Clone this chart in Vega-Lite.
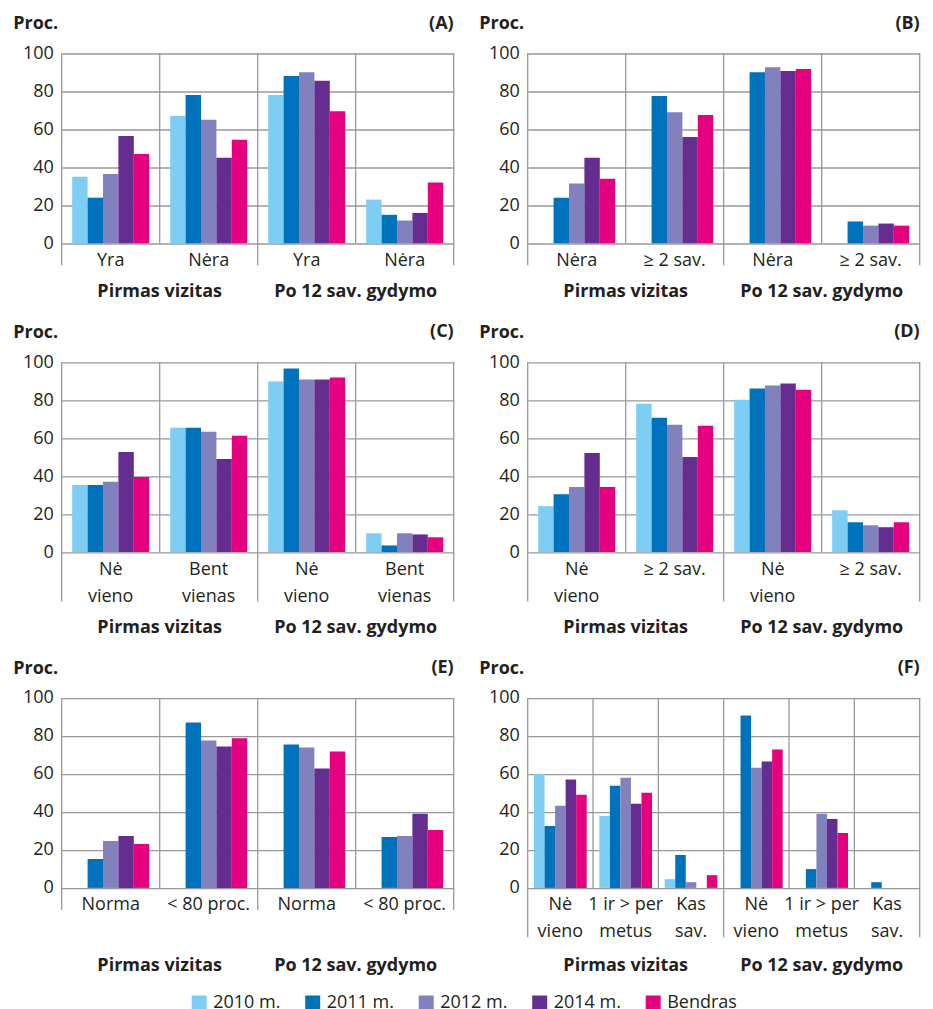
{
"$schema": "https://vega.github.io/schema/vega-lite/v6.json",
"padding": {"left": 12.7, "top": 11.5, "right": 0, "bottom": 0},
"config": {"font": "Open Sans", "view": {"stroke": null}},
"datasets": {
"bars": [
{"p":"A","cat":"c1","s":"2010 m.","v":35},{"p":"A","cat":"c1","s":"2011 m.","v":24},{"p":"A","cat":"c1","s":"2012 m.","v":36.5},{"p":"A","cat":"c1","s":"2014 m.","v":56.5},{"p":"A","cat":"c1","s":"Bendras","v":47},
{"p":"A","cat":"c2","s":"2010 m.","v":67},{"p":"A","cat":"c2","s":"2011 m.","v":78},{"p":"A","cat":"c2","s":"2012 m.","v":65},{"p":"A","cat":"c2","s":"2014 m.","v":45},{"p":"A","cat":"c2","s":"Bendras","v":54.5},
{"p":"A","cat":"c3","s":"2010 m.","v":78},{"p":"A","cat":"c3","s":"2011 m.","v":88},{"p":"A","cat":"c3","s":"2012 m.","v":90},{"p":"A","cat":"c3","s":"2014 m.","v":85.5},{"p":"A","cat":"c3","s":"Bendras","v":69.5},
{"p":"A","cat":"c4","s":"2010 m.","v":23},{"p":"A","cat":"c4","s":"2011 m.","v":15},{"p":"A","cat":"c4","s":"2012 m.","v":12},{"p":"A","cat":"c4","s":"2014 m.","v":16},{"p":"A","cat":"c4","s":"Bendras","v":32},
{"p":"B","cat":"c1","s":"2011 m.","v":24},{"p":"B","cat":"c1","s":"2012 m.","v":31.5},{"p":"B","cat":"c1","s":"2014 m.","v":45},{"p":"B","cat":"c1","s":"Bendras","v":34},
{"p":"B","cat":"c2","s":"2011 m.","v":77.5},{"p":"B","cat":"c2","s":"2012 m.","v":69},{"p":"B","cat":"c2","s":"2014 m.","v":56},{"p":"B","cat":"c2","s":"Bendras","v":67.5},
{"p":"B","cat":"c3","s":"2011 m.","v":90},{"p":"B","cat":"c3","s":"2012 m.","v":92.7},{"p":"B","cat":"c3","s":"2014 m.","v":90.7},{"p":"B","cat":"c3","s":"Bendras","v":91.7},
{"p":"B","cat":"c4","s":"2011 m.","v":11.5},{"p":"B","cat":"c4","s":"2012 m.","v":9.3},{"p":"B","cat":"c4","s":"2014 m.","v":10.4},{"p":"B","cat":"c4","s":"Bendras","v":9.3},
{"p":"C","cat":"c1","s":"2010 m.","v":35.3},{"p":"C","cat":"c1","s":"2011 m.","v":35.3},{"p":"C","cat":"c1","s":"2012 m.","v":37},{"p":"C","cat":"c1","s":"2014 m.","v":52.7},{"p":"C","cat":"c1","s":"Bendras","v":39.5},
{"p":"C","cat":"c2","s":"2010 m.","v":65.4},{"p":"C","cat":"c2","s":"2011 m.","v":65.4},{"p":"C","cat":"c2","s":"2012 m.","v":63.3},{"p":"C","cat":"c2","s":"2014 m.","v":49},{"p":"C","cat":"c2","s":"Bendras","v":61.2},
{"p":"C","cat":"c3","s":"2010 m.","v":89.8},{"p":"C","cat":"c3","s":"2011 m.","v":96.6},{"p":"C","cat":"c3","s":"2012 m.","v":90.8},{"p":"C","cat":"c3","s":"2014 m.","v":90.8},{"p":"C","cat":"c3","s":"Bendras","v":91.9},
{"p":"C","cat":"c4","s":"2010 m.","v":9.9},{"p":"C","cat":"c4","s":"2011 m.","v":3.5},{"p":"C","cat":"c4","s":"2012 m.","v":9.9},{"p":"C","cat":"c4","s":"2014 m.","v":9.3},{"p":"C","cat":"c4","s":"Bendras","v":7.8},
{"p":"D","cat":"c1","s":"2010 m.","v":24.2},{"p":"D","cat":"c1","s":"2011 m.","v":30.5},{"p":"D","cat":"c1","s":"2012 m.","v":34.2},{"p":"D","cat":"c1","s":"2014 m.","v":52.2},{"p":"D","cat":"c1","s":"Bendras","v":34.2},
{"p":"D","cat":"c2","s":"2010 m.","v":78.1},{"p":"D","cat":"c2","s":"2011 m.","v":70.7},{"p":"D","cat":"c2","s":"2012 m.","v":67},{"p":"D","cat":"c2","s":"2014 m.","v":50},{"p":"D","cat":"c2","s":"Bendras","v":66.5},
{"p":"D","cat":"c3","s":"2010 m.","v":80.2},{"p":"D","cat":"c3","s":"2011 m.","v":86.1},{"p":"D","cat":"c3","s":"2012 m.","v":87.7},{"p":"D","cat":"c3","s":"2014 m.","v":88.7},{"p":"D","cat":"c3","s":"Bendras","v":85.5},
{"p":"D","cat":"c4","s":"2010 m.","v":22},{"p":"D","cat":"c4","s":"2011 m.","v":15.7},{"p":"D","cat":"c4","s":"2012 m.","v":14.1},{"p":"D","cat":"c4","s":"2014 m.","v":13.1},{"p":"D","cat":"c4","s":"Bendras","v":15.7},
{"p":"E","cat":"c1","s":"2011 m.","v":15.2},{"p":"E","cat":"c1","s":"2012 m.","v":24.7},{"p":"E","cat":"c1","s":"2014 m.","v":27.3},{"p":"E","cat":"c1","s":"Bendras","v":23.1},
{"p":"E","cat":"c2","s":"2011 m.","v":87.1},{"p":"E","cat":"c2","s":"2012 m.","v":77.6},{"p":"E","cat":"c2","s":"2014 m.","v":74.4},{"p":"E","cat":"c2","s":"Bendras","v":78.7},
{"p":"E","cat":"c3","s":"2011 m.","v":75.5},{"p":"E","cat":"c3","s":"2012 m.","v":73.9},{"p":"E","cat":"c3","s":"2014 m.","v":62.8},{"p":"E","cat":"c3","s":"Bendras","v":71.8},
{"p":"E","cat":"c4","s":"2011 m.","v":26.8},{"p":"E","cat":"c4","s":"2012 m.","v":27.3},{"p":"E","cat":"c4","s":"2014 m.","v":39},{"p":"E","cat":"c4","s":"Bendras","v":30.5},
{"p":"F","cat":"c1","s":"2010 m.","v":60},{"p":"F","cat":"c1","s":"2011 m.","v":32.6},{"p":"F","cat":"c1","s":"2012 m.","v":43.2},{"p":"F","cat":"c1","s":"2014 m.","v":57},{"p":"F","cat":"c1","s":"Bendras","v":49},
{"p":"F","cat":"c2","s":"2010 m.","v":37.9},{"p":"F","cat":"c2","s":"2011 m.","v":53.8},{"p":"F","cat":"c2","s":"2012 m.","v":58},{"p":"F","cat":"c2","s":"2014 m.","v":44.3},{"p":"F","cat":"c2","s":"Bendras","v":50.1},
{"p":"F","cat":"c3","s":"2010 m.","v":4.6},{"p":"F","cat":"c3","s":"2011 m.","v":17.3},{"p":"F","cat":"c3","s":"2012 m.","v":3},{"p":"F","cat":"c3","s":"Bendras","v":6.7},
{"p":"F","cat":"c4","s":"2011 m.","v":90.8},{"p":"F","cat":"c4","s":"2012 m.","v":63.3},{"p":"F","cat":"c4","s":"2014 m.","v":66.5},{"p":"F","cat":"c4","s":"Bendras","v":72.8},
{"p":"F","cat":"c5","s":"2011 m.","v":9.9},{"p":"F","cat":"c5","s":"2012 m.","v":39},{"p":"F","cat":"c5","s":"2014 m.","v":36.3},{"p":"F","cat":"c5","s":"Bendras","v":28.9},
{"p":"F","cat":"c6","s":"2011 m.","v":3}
],
"cats": [
{"p":"A","cat":"c1","label":"Yra","first":true,"last":false},{"p":"A","cat":"c2","label":"Nėra","first":false,"last":false},{"p":"A","cat":"c3","label":"Yra","first":true,"last":false},{"p":"A","cat":"c4","label":"Nėra","first":false,"last":true},
{"p":"B","cat":"c1","label":"Nėra","first":true,"last":false},{"p":"B","cat":"c2","label":"≥ 2 sav.","first":false,"last":false},{"p":"B","cat":"c3","label":"Nėra","first":true,"last":false},{"p":"B","cat":"c4","label":"≥ 2 sav.","first":false,"last":true},
{"p":"C","cat":"c1","label":"Nė\nvieno","first":true,"last":false},{"p":"C","cat":"c2","label":"Bent\nvienas","first":false,"last":false},{"p":"C","cat":"c3","label":"Nė\nvieno","first":true,"last":false},{"p":"C","cat":"c4","label":"Bent\nvienas","first":false,"last":true},
{"p":"D","cat":"c1","label":"Nė\nvieno","first":true,"last":false},{"p":"D","cat":"c2","label":"≥ 2 sav.","first":false,"last":false},{"p":"D","cat":"c3","label":"Nė\nvieno","first":true,"last":false},{"p":"D","cat":"c4","label":"≥ 2 sav.","first":false,"last":true},
{"p":"E","cat":"c1","label":"Norma","first":true,"last":false},{"p":"E","cat":"c2","label":"< 80 proc.","first":false,"last":false},{"p":"E","cat":"c3","label":"Norma","first":true,"last":false},{"p":"E","cat":"c4","label":"< 80 proc.","first":false,"last":true},
{"p":"F","cat":"c1","label":"Nė\nvieno","first":true,"last":false},{"p":"F","cat":"c2","label":"1 ir > per\nmetus","first":false,"last":false},{"p":"F","cat":"c3","label":"Kas\nsav.","first":false,"last":false},{"p":"F","cat":"c4","label":"Nė\nvieno","first":true,"last":false},{"p":"F","cat":"c5","label":"1 ir > per\nmetus","first":false,"last":false},{"p":"F","cat":"c6","label":"Kas\nsav.","first":false,"last":true}
],
"groups": [
{"p":"A","cat":"c1","label":"Pirmas vizitas"},{"p":"A","cat":"c3","label":"Po 12 sav. gydymo"},
{"p":"B","cat":"c1","label":"Pirmas vizitas"},{"p":"B","cat":"c3","label":"Po 12 sav. gydymo"},
{"p":"C","cat":"c1","label":"Pirmas vizitas"},{"p":"C","cat":"c3","label":"Po 12 sav. gydymo"},
{"p":"D","cat":"c1","label":"Pirmas vizitas"},{"p":"D","cat":"c3","label":"Po 12 sav. gydymo"},
{"p":"E","cat":"c1","label":"Pirmas vizitas"},{"p":"E","cat":"c3","label":"Po 12 sav. gydymo"},
{"p":"F","cat":"c2","label":"Pirmas vizitas"},{"p":"F","cat":"c5","label":"Po 12 sav. gydymo"}
],
"letters": [
{"p":"A","cat":"c4","label":"(A)"},{"p":"B","cat":"c4","label":"(B)"},{"p":"C","cat":"c4","label":"(C)"},{"p":"D","cat":"c4","label":"(D)"},{"p":"E","cat":"c4","label":"(E)"},{"p":"F","cat":"c6","label":"(F)"}
]
},
"resolve": {"scale": {"xOffset": "independent"}},
"vconcat": [
{"resolve": {"scale": {"xOffset": "independent"}}, "hconcat": [
{"width": 392, "height": 292.6, "layer": [
{"data": {"name": "bars"}, "transform": [{"filter": "datum.p === 'A'"}], "mark": {"type": "bar"},
 "encoding": {
  "x": {"field": "cat", "type": "nominal", "scale": {"domain": ["c1","c2","c3","c4"], "paddingInner": 0, "paddingOuter": 0}, "axis": null},
  "xOffset": {"field": "s", "type": "nominal", "scale": {"domain": ["2010 m.","2011 m.","2012 m.","2014 m.","Bendras"], "paddingInner": 0, "paddingOuter": 0.68}},
  "y": {"field": "v", "type": "quantitative", "scale": {"domain": [-32, 122], "nice": false, "zero": false}, "axis": {"values": [0,20,40,60,80,100], "grid": true, "gridColor": "#999999", "gridWidth": 1.3, "domain": false, "ticks": false, "labelFontSize": 18, "labelColor": "#231f20", "labelPadding": 8.4, "title": "Proc.", "titleAngle": 0, "titleAlign": "left", "titleBaseline": "alphabetic", "titleX": -49, "titleY": 17, "titleFontSize": 18, "titleFontWeight": "bold", "titleColor": "#231f20"}},
  "color": {"field": "s", "type": "nominal", "scale": {"domain": ["2010 m.","2011 m.","2012 m.","2014 m.","Bendras"], "range": ["#7ecef4","#0072bb","#8181be","#662d91","#e5007d"]}, "legend": {"title": null, "orient": "none", "direction": "horizontal", "legendX": 128.5, "legendY": 982.5, "symbolType": "square", "symbolSize": 225, "symbolStrokeWidth": 0, "labelFontSize": 18, "labelOffset": 5, "columnPadding": 22.5, "labelColor": "#231f20"}}
 }},
{"data": {"name": "cats"}, "transform": [{"filter": "datum.p === 'A' && !datum.first"}], "mark": {"type": "rule", "color": "#999999", "strokeWidth": 1.3},
 "encoding": {"x": {"field": "cat", "type": "nominal", "bandPosition": 0, "axis": null}, "y": {"datum": 0, "type": "quantitative"}, "y2": {"datum": 100}}},
{"data": {"name": "cats"}, "transform": [{"filter": "datum.p === 'A' && datum.first"}], "mark": {"type": "rule", "color": "#999999", "strokeWidth": 1.3},
 "encoding": {"x": {"field": "cat", "type": "nominal", "bandPosition": 0, "axis": null}, "y": {"datum": -11.6, "type": "quantitative"}, "y2": {"datum": 100}}},
{"data": {"name": "cats"}, "transform": [{"filter": "datum.p === 'A' && datum.last"}], "mark": {"type": "rule", "color": "#999999", "strokeWidth": 1.3},
 "encoding": {"x": {"field": "cat", "type": "nominal", "bandPosition": 1, "axis": null}, "y": {"datum": -11.6, "type": "quantitative"}, "y2": {"datum": 100}}},
{"data": {"name": "cats"}, "transform": [{"filter": "datum.p === 'A'"}], "mark": {"type": "text", "fontSize": 18, "color": "#231f20", "align": "center", "baseline": "alphabetic", "lineBreak": "\n", "lineHeight": 27},
 "encoding": {"x": {"field": "cat", "type": "nominal", "axis": null}, "y": {"datum": -11.8, "type": "quantitative"}, "text": {"field": "label"}}},
{"data": {"name": "groups"}, "transform": [{"filter": "datum.p === 'A'"}], "mark": {"type": "text", "fontSize": 18, "fontWeight": "bold", "color": "#231f20", "align": "center", "baseline": "alphabetic"},
 "encoding": {"x": {"field": "cat", "type": "nominal", "bandPosition": 1, "axis": null}, "y": {"datum": -28.1, "type": "quantitative"}, "text": {"field": "label"}}},
{"data": {"name": "letters"}, "transform": [{"filter": "datum.p === 'A'"}], "mark": {"type": "text", "fontSize": 18, "fontWeight": "bold", "color": "#231f20", "align": "right", "baseline": "alphabetic"},
 "encoding": {"x": {"field": "cat", "type": "nominal", "bandPosition": 1, "axis": null}, "y": {"datum": 112.8, "type": "quantitative"}, "text": {"field": "label"}}}
]},
{"width": 392, "height": 292.6, "layer": [
{"data": {"name": "bars"}, "transform": [{"filter": "datum.p === 'B'"}], "mark": {"type": "bar"},
 "encoding": {
  "x": {"field": "cat", "type": "nominal", "scale": {"domain": ["c1","c2","c3","c4"], "paddingInner": 0, "paddingOuter": 0}, "axis": null},
  "xOffset": {"field": "s", "type": "nominal", "scale": {"domain": ["2010 m.","2011 m.","2012 m.","2014 m.","Bendras"], "paddingInner": 0, "paddingOuter": 0.68}},
  "y": {"field": "v", "type": "quantitative", "scale": {"domain": [-32, 122], "nice": false, "zero": false}, "axis": {"values": [0,20,40,60,80,100], "grid": true, "gridColor": "#999999", "gridWidth": 1.3, "domain": false, "ticks": false, "labelFontSize": 18, "labelColor": "#231f20", "labelPadding": 8.4, "title": "Proc.", "titleAngle": 0, "titleAlign": "left", "titleBaseline": "alphabetic", "titleX": -49, "titleY": 17, "titleFontSize": 18, "titleFontWeight": "bold", "titleColor": "#231f20"}},
  "color": {"field": "s", "type": "nominal", "scale": {"domain": ["2010 m.","2011 m.","2012 m.","2014 m.","Bendras"], "range": ["#7ecef4","#0072bb","#8181be","#662d91","#e5007d"]}, "legend": {"title": null, "orient": "none", "direction": "horizontal", "legendX": 128.5, "legendY": 982.5, "symbolType": "square", "symbolSize": 225, "symbolStrokeWidth": 0, "labelFontSize": 18, "labelOffset": 5, "columnPadding": 22.5, "labelColor": "#231f20"}}
 }},
{"data": {"name": "cats"}, "transform": [{"filter": "datum.p === 'B' && !datum.first"}], "mark": {"type": "rule", "color": "#999999", "strokeWidth": 1.3},
 "encoding": {"x": {"field": "cat", "type": "nominal", "bandPosition": 0, "axis": null}, "y": {"datum": 0, "type": "quantitative"}, "y2": {"datum": 100}}},
{"data": {"name": "cats"}, "transform": [{"filter": "datum.p === 'B' && datum.first"}], "mark": {"type": "rule", "color": "#999999", "strokeWidth": 1.3},
 "encoding": {"x": {"field": "cat", "type": "nominal", "bandPosition": 0, "axis": null}, "y": {"datum": -11.6, "type": "quantitative"}, "y2": {"datum": 100}}},
{"data": {"name": "cats"}, "transform": [{"filter": "datum.p === 'B' && datum.last"}], "mark": {"type": "rule", "color": "#999999", "strokeWidth": 1.3},
 "encoding": {"x": {"field": "cat", "type": "nominal", "bandPosition": 1, "axis": null}, "y": {"datum": -11.6, "type": "quantitative"}, "y2": {"datum": 100}}},
{"data": {"name": "cats"}, "transform": [{"filter": "datum.p === 'B'"}], "mark": {"type": "text", "fontSize": 18, "color": "#231f20", "align": "center", "baseline": "alphabetic", "lineBreak": "\n", "lineHeight": 27},
 "encoding": {"x": {"field": "cat", "type": "nominal", "axis": null}, "y": {"datum": -11.8, "type": "quantitative"}, "text": {"field": "label"}}},
{"data": {"name": "groups"}, "transform": [{"filter": "datum.p === 'B'"}], "mark": {"type": "text", "fontSize": 18, "fontWeight": "bold", "color": "#231f20", "align": "center", "baseline": "alphabetic"},
 "encoding": {"x": {"field": "cat", "type": "nominal", "bandPosition": 1, "axis": null}, "y": {"datum": -28.1, "type": "quantitative"}, "text": {"field": "label"}}},
{"data": {"name": "letters"}, "transform": [{"filter": "datum.p === 'B'"}], "mark": {"type": "text", "fontSize": 18, "fontWeight": "bold", "color": "#231f20", "align": "right", "baseline": "alphabetic"},
 "encoding": {"x": {"field": "cat", "type": "nominal", "bandPosition": 1, "axis": null}, "y": {"datum": 112.8, "type": "quantitative"}, "text": {"field": "label"}}}
]}
], "spacing": 24},
{"resolve": {"scale": {"xOffset": "independent"}}, "hconcat": [
{"width": 392, "height": 319.2, "layer": [
{"data": {"name": "bars"}, "transform": [{"filter": "datum.p === 'C'"}], "mark": {"type": "bar"},
 "encoding": {
  "x": {"field": "cat", "type": "nominal", "scale": {"domain": ["c1","c2","c3","c4"], "paddingInner": 0, "paddingOuter": 0}, "axis": null},
  "xOffset": {"field": "s", "type": "nominal", "scale": {"domain": ["2010 m.","2011 m.","2012 m.","2014 m.","Bendras"], "paddingInner": 0, "paddingOuter": 0.68}},
  "y": {"field": "v", "type": "quantitative", "scale": {"domain": [-46, 122], "nice": false, "zero": false}, "axis": {"values": [0,20,40,60,80,100], "grid": true, "gridColor": "#999999", "gridWidth": 1.3, "domain": false, "ticks": false, "labelFontSize": 18, "labelColor": "#231f20", "labelPadding": 8.4, "title": "Proc.", "titleAngle": 0, "titleAlign": "left", "titleBaseline": "alphabetic", "titleX": -49, "titleY": 17, "titleFontSize": 18, "titleFontWeight": "bold", "titleColor": "#231f20"}},
  "color": {"field": "s", "type": "nominal", "scale": {"domain": ["2010 m.","2011 m.","2012 m.","2014 m.","Bendras"], "range": ["#7ecef4","#0072bb","#8181be","#662d91","#e5007d"]}, "legend": {"title": null, "orient": "none", "direction": "horizontal", "legendX": 128.5, "legendY": 982.5, "symbolType": "square", "symbolSize": 225, "symbolStrokeWidth": 0, "labelFontSize": 18, "labelOffset": 5, "columnPadding": 22.5, "labelColor": "#231f20"}}
 }},
{"data": {"name": "cats"}, "transform": [{"filter": "datum.p === 'C' && !datum.first"}], "mark": {"type": "rule", "color": "#999999", "strokeWidth": 1.3},
 "encoding": {"x": {"field": "cat", "type": "nominal", "bandPosition": 0, "axis": null}, "y": {"datum": 0, "type": "quantitative"}, "y2": {"datum": 100}}},
{"data": {"name": "cats"}, "transform": [{"filter": "datum.p === 'C' && datum.first"}], "mark": {"type": "rule", "color": "#999999", "strokeWidth": 1.3},
 "encoding": {"x": {"field": "cat", "type": "nominal", "bandPosition": 0, "axis": null}, "y": {"datum": -26, "type": "quantitative"}, "y2": {"datum": 100}}},
{"data": {"name": "cats"}, "transform": [{"filter": "datum.p === 'C' && datum.last"}], "mark": {"type": "rule", "color": "#999999", "strokeWidth": 1.3},
 "encoding": {"x": {"field": "cat", "type": "nominal", "bandPosition": 1, "axis": null}, "y": {"datum": -26, "type": "quantitative"}, "y2": {"datum": 100}}},
{"data": {"name": "cats"}, "transform": [{"filter": "datum.p === 'C'"}], "mark": {"type": "text", "fontSize": 18, "color": "#231f20", "align": "center", "baseline": "alphabetic", "lineBreak": "\n", "lineHeight": 27},
 "encoding": {"x": {"field": "cat", "type": "nominal", "axis": null}, "y": {"datum": -11.8, "type": "quantitative"}, "text": {"field": "label"}}},
{"data": {"name": "groups"}, "transform": [{"filter": "datum.p === 'C'"}], "mark": {"type": "text", "fontSize": 18, "fontWeight": "bold", "color": "#231f20", "align": "center", "baseline": "alphabetic"},
 "encoding": {"x": {"field": "cat", "type": "nominal", "bandPosition": 1, "axis": null}, "y": {"datum": -42.6, "type": "quantitative"}, "text": {"field": "label"}}},
{"data": {"name": "letters"}, "transform": [{"filter": "datum.p === 'C'"}], "mark": {"type": "text", "fontSize": 18, "fontWeight": "bold", "color": "#231f20", "align": "right", "baseline": "alphabetic"},
 "encoding": {"x": {"field": "cat", "type": "nominal", "bandPosition": 1, "axis": null}, "y": {"datum": 113, "type": "quantitative"}, "text": {"field": "label"}}}
]},
{"width": 392, "height": 319.2, "layer": [
{"data": {"name": "bars"}, "transform": [{"filter": "datum.p === 'D'"}], "mark": {"type": "bar"},
 "encoding": {
  "x": {"field": "cat", "type": "nominal", "scale": {"domain": ["c1","c2","c3","c4"], "paddingInner": 0, "paddingOuter": 0}, "axis": null},
  "xOffset": {"field": "s", "type": "nominal", "scale": {"domain": ["2010 m.","2011 m.","2012 m.","2014 m.","Bendras"], "paddingInner": 0, "paddingOuter": 0.68}},
  "y": {"field": "v", "type": "quantitative", "scale": {"domain": [-46, 122], "nice": false, "zero": false}, "axis": {"values": [0,20,40,60,80,100], "grid": true, "gridColor": "#999999", "gridWidth": 1.3, "domain": false, "ticks": false, "labelFontSize": 18, "labelColor": "#231f20", "labelPadding": 8.4, "title": "Proc.", "titleAngle": 0, "titleAlign": "left", "titleBaseline": "alphabetic", "titleX": -49, "titleY": 17, "titleFontSize": 18, "titleFontWeight": "bold", "titleColor": "#231f20"}},
  "color": {"field": "s", "type": "nominal", "scale": {"domain": ["2010 m.","2011 m.","2012 m.","2014 m.","Bendras"], "range": ["#7ecef4","#0072bb","#8181be","#662d91","#e5007d"]}, "legend": {"title": null, "orient": "none", "direction": "horizontal", "legendX": 128.5, "legendY": 982.5, "symbolType": "square", "symbolSize": 225, "symbolStrokeWidth": 0, "labelFontSize": 18, "labelOffset": 5, "columnPadding": 22.5, "labelColor": "#231f20"}}
 }},
{"data": {"name": "cats"}, "transform": [{"filter": "datum.p === 'D' && !datum.first"}], "mark": {"type": "rule", "color": "#999999", "strokeWidth": 1.3},
 "encoding": {"x": {"field": "cat", "type": "nominal", "bandPosition": 0, "axis": null}, "y": {"datum": 0, "type": "quantitative"}, "y2": {"datum": 100}}},
{"data": {"name": "cats"}, "transform": [{"filter": "datum.p === 'D' && datum.first"}], "mark": {"type": "rule", "color": "#999999", "strokeWidth": 1.3},
 "encoding": {"x": {"field": "cat", "type": "nominal", "bandPosition": 0, "axis": null}, "y": {"datum": -26, "type": "quantitative"}, "y2": {"datum": 100}}},
{"data": {"name": "cats"}, "transform": [{"filter": "datum.p === 'D' && datum.last"}], "mark": {"type": "rule", "color": "#999999", "strokeWidth": 1.3},
 "encoding": {"x": {"field": "cat", "type": "nominal", "bandPosition": 1, "axis": null}, "y": {"datum": -26, "type": "quantitative"}, "y2": {"datum": 100}}},
{"data": {"name": "cats"}, "transform": [{"filter": "datum.p === 'D'"}], "mark": {"type": "text", "fontSize": 18, "color": "#231f20", "align": "center", "baseline": "alphabetic", "lineBreak": "\n", "lineHeight": 27},
 "encoding": {"x": {"field": "cat", "type": "nominal", "axis": null}, "y": {"datum": -11.8, "type": "quantitative"}, "text": {"field": "label"}}},
{"data": {"name": "groups"}, "transform": [{"filter": "datum.p === 'D'"}], "mark": {"type": "text", "fontSize": 18, "fontWeight": "bold", "color": "#231f20", "align": "center", "baseline": "alphabetic"},
 "encoding": {"x": {"field": "cat", "type": "nominal", "bandPosition": 1, "axis": null}, "y": {"datum": -42.6, "type": "quantitative"}, "text": {"field": "label"}}},
{"data": {"name": "letters"}, "transform": [{"filter": "datum.p === 'D'"}], "mark": {"type": "text", "fontSize": 18, "fontWeight": "bold", "color": "#231f20", "align": "right", "baseline": "alphabetic"},
 "encoding": {"x": {"field": "cat", "type": "nominal", "bandPosition": 1, "axis": null}, "y": {"datum": 113, "type": "quantitative"}, "text": {"field": "label"}}}
]}
], "spacing": 24},
{"resolve": {"scale": {"xOffset": "independent"}}, "hconcat": [
{"width": 392, "height": 319.2, "layer": [
{"data": {"name": "bars"}, "transform": [{"filter": "datum.p === 'E'"}], "mark": {"type": "bar"},
 "encoding": {
  "x": {"field": "cat", "type": "nominal", "scale": {"domain": ["c1","c2","c3","c4"], "paddingInner": 0, "paddingOuter": 0}, "axis": null},
  "xOffset": {"field": "s", "type": "nominal", "scale": {"domain": ["2010 m.","2011 m.","2012 m.","2014 m.","Bendras"], "paddingInner": 0, "paddingOuter": 0.68}},
  "y": {"field": "v", "type": "quantitative", "scale": {"domain": [-46, 122], "nice": false, "zero": false}, "axis": {"values": [0,20,40,60,80,100], "grid": true, "gridColor": "#999999", "gridWidth": 1.3, "domain": false, "ticks": false, "labelFontSize": 18, "labelColor": "#231f20", "labelPadding": 8.4, "title": "Proc.", "titleAngle": 0, "titleAlign": "left", "titleBaseline": "alphabetic", "titleX": -49, "titleY": 17, "titleFontSize": 18, "titleFontWeight": "bold", "titleColor": "#231f20"}},
  "color": {"field": "s", "type": "nominal", "scale": {"domain": ["2010 m.","2011 m.","2012 m.","2014 m.","Bendras"], "range": ["#7ecef4","#0072bb","#8181be","#662d91","#e5007d"]}, "legend": {"title": null, "orient": "none", "direction": "horizontal", "legendX": 128.5, "legendY": 982.5, "symbolType": "square", "symbolSize": 225, "symbolStrokeWidth": 0, "labelFontSize": 18, "labelOffset": 5, "columnPadding": 22.5, "labelColor": "#231f20"}}
 }},
{"data": {"name": "cats"}, "transform": [{"filter": "datum.p === 'E' && !datum.first"}], "mark": {"type": "rule", "color": "#999999", "strokeWidth": 1.3},
 "encoding": {"x": {"field": "cat", "type": "nominal", "bandPosition": 0, "axis": null}, "y": {"datum": 0, "type": "quantitative"}, "y2": {"datum": 100}}},
{"data": {"name": "cats"}, "transform": [{"filter": "datum.p === 'E' && datum.first"}], "mark": {"type": "rule", "color": "#999999", "strokeWidth": 1.3},
 "encoding": {"x": {"field": "cat", "type": "nominal", "bandPosition": 0, "axis": null}, "y": {"datum": -11.7, "type": "quantitative"}, "y2": {"datum": 100}}},
{"data": {"name": "cats"}, "transform": [{"filter": "datum.p === 'E' && datum.last"}], "mark": {"type": "rule", "color": "#999999", "strokeWidth": 1.3},
 "encoding": {"x": {"field": "cat", "type": "nominal", "bandPosition": 1, "axis": null}, "y": {"datum": -11.7, "type": "quantitative"}, "y2": {"datum": 100}}},
{"data": {"name": "cats"}, "transform": [{"filter": "datum.p === 'E'"}], "mark": {"type": "text", "fontSize": 18, "color": "#231f20", "align": "center", "baseline": "alphabetic", "lineBreak": "\n", "lineHeight": 27},
 "encoding": {"x": {"field": "cat", "type": "nominal", "axis": null}, "y": {"datum": -11.8, "type": "quantitative"}, "text": {"field": "label"}}},
{"data": {"name": "groups"}, "transform": [{"filter": "datum.p === 'E'"}], "mark": {"type": "text", "fontSize": 18, "fontWeight": "bold", "color": "#231f20", "align": "center", "baseline": "alphabetic"},
 "encoding": {"x": {"field": "cat", "type": "nominal", "bandPosition": 1, "axis": null}, "y": {"datum": -43.5, "type": "quantitative"}, "text": {"field": "label"}}},
{"data": {"name": "letters"}, "transform": [{"filter": "datum.p === 'E'"}], "mark": {"type": "text", "fontSize": 18, "fontWeight": "bold", "color": "#231f20", "align": "right", "baseline": "alphabetic"},
 "encoding": {"x": {"field": "cat", "type": "nominal", "bandPosition": 1, "axis": null}, "y": {"datum": 113, "type": "quantitative"}, "text": {"field": "label"}}}
]},
{"width": 392, "height": 319.2, "layer": [
{"data": {"name": "bars"}, "transform": [{"filter": "datum.p === 'F'"}], "mark": {"type": "bar"},
 "encoding": {
  "x": {"field": "cat", "type": "nominal", "scale": {"domain": ["c1","c2","c3","c4","c5","c6"], "paddingInner": 0, "paddingOuter": 0}, "axis": null},
  "xOffset": {"field": "s", "type": "nominal", "scale": {"domain": ["2010 m.","2011 m.","2012 m.","2014 m.","Bendras"], "paddingInner": 0, "paddingOuter": 0.6}},
  "y": {"field": "v", "type": "quantitative", "scale": {"domain": [-46, 122], "nice": false, "zero": false}, "axis": {"values": [0,20,40,60,80,100], "grid": true, "gridColor": "#999999", "gridWidth": 1.3, "domain": false, "ticks": false, "labelFontSize": 18, "labelColor": "#231f20", "labelPadding": 8.4, "title": "Proc.", "titleAngle": 0, "titleAlign": "left", "titleBaseline": "alphabetic", "titleX": -49, "titleY": 17, "titleFontSize": 18, "titleFontWeight": "bold", "titleColor": "#231f20"}},
  "color": {"field": "s", "type": "nominal", "scale": {"domain": ["2010 m.","2011 m.","2012 m.","2014 m.","Bendras"], "range": ["#7ecef4","#0072bb","#8181be","#662d91","#e5007d"]}, "legend": {"title": null, "orient": "none", "direction": "horizontal", "legendX": 128.5, "legendY": 982.5, "symbolType": "square", "symbolSize": 225, "symbolStrokeWidth": 0, "labelFontSize": 18, "labelOffset": 5, "columnPadding": 22.5, "labelColor": "#231f20"}}
 }},
{"data": {"name": "cats"}, "transform": [{"filter": "datum.p === 'F' && !datum.first"}], "mark": {"type": "rule", "color": "#999999", "strokeWidth": 1.3},
 "encoding": {"x": {"field": "cat", "type": "nominal", "bandPosition": 0, "axis": null}, "y": {"datum": 0, "type": "quantitative"}, "y2": {"datum": 100}}},
{"data": {"name": "cats"}, "transform": [{"filter": "datum.p === 'F' && datum.first"}], "mark": {"type": "rule", "color": "#999999", "strokeWidth": 1.3},
 "encoding": {"x": {"field": "cat", "type": "nominal", "bandPosition": 0, "axis": null}, "y": {"datum": -26, "type": "quantitative"}, "y2": {"datum": 100}}},
{"data": {"name": "cats"}, "transform": [{"filter": "datum.p === 'F' && datum.last"}], "mark": {"type": "rule", "color": "#999999", "strokeWidth": 1.3},
 "encoding": {"x": {"field": "cat", "type": "nominal", "bandPosition": 1, "axis": null}, "y": {"datum": -26, "type": "quantitative"}, "y2": {"datum": 100}}},
{"data": {"name": "cats"}, "transform": [{"filter": "datum.p === 'F'"}], "mark": {"type": "text", "fontSize": 18, "color": "#231f20", "align": "center", "baseline": "alphabetic", "lineBreak": "\n", "lineHeight": 27},
 "encoding": {"x": {"field": "cat", "type": "nominal", "axis": null}, "y": {"datum": -11.8, "type": "quantitative"}, "text": {"field": "label"}}},
{"data": {"name": "groups"}, "transform": [{"filter": "datum.p === 'F'"}], "mark": {"type": "text", "fontSize": 18, "fontWeight": "bold", "color": "#231f20", "align": "center", "baseline": "alphabetic"},
 "encoding": {"x": {"field": "cat", "type": "nominal", "bandPosition": 0.5, "axis": null}, "y": {"datum": -43.5, "type": "quantitative"}, "text": {"field": "label"}}},
{"data": {"name": "letters"}, "transform": [{"filter": "datum.p === 'F'"}], "mark": {"type": "text", "fontSize": 18, "fontWeight": "bold", "color": "#231f20", "align": "right", "baseline": "alphabetic"},
 "encoding": {"x": {"field": "cat", "type": "nominal", "bandPosition": 1, "axis": null}, "y": {"datum": 113, "type": "quantitative"}, "text": {"field": "label"}}}
]}
], "spacing": 24}
], "spacing": 15.8
}
